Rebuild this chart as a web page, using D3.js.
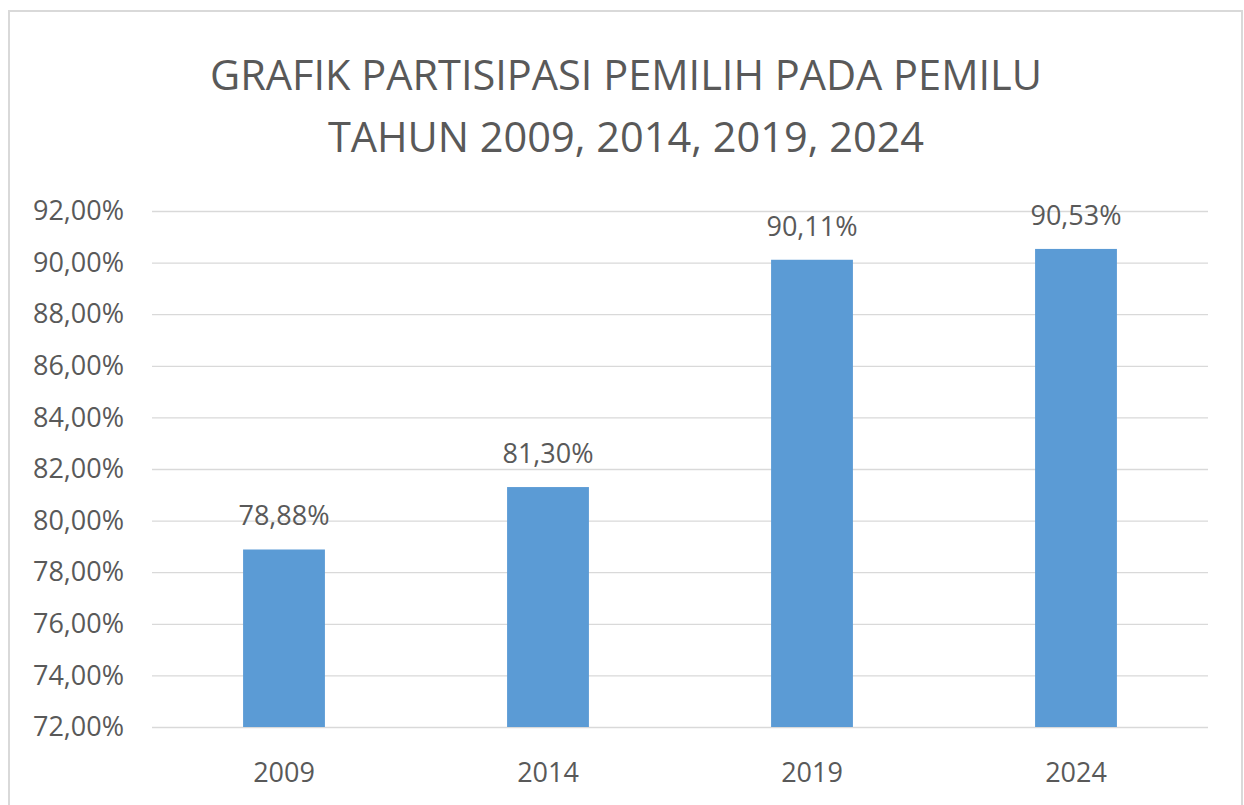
<!DOCTYPE html>
<html>
<head>
<meta charset="utf-8">
<script src="https://cdn.jsdelivr.net/npm/d3@7"></script>
<style>
  body { margin: 0; background: #fff; }
  text { font-family: "Open Sans", sans-serif; fill: #595959; }
</style>
</head>
<body>
<svg width="1244" height="805"></svg>
<script>
// data
const years = ['2009', '2014', '2019', '2024'];
const partisipasi = [78.88, 81.30, 90.11, 90.53];
const yTicks = [72, 74, 76, 78, 80, 82, 84, 86, 88, 90, 92];
const titleLines = ['GRAFIK PARTISIPASI PEMILIH PADA PEMILU', 'TAHUN 2009, 2014, 2019, 2024'];

const svg = d3.select('svg');

// chart border
svg.append('rect')
    .attr('x', 9).attr('y', 11)
    .attr('width', 1233).attr('height', 820)
    .attr('fill', 'white')
    .attr('stroke', '#d9d9d9')
    .attr('stroke-width', 2);

const plotL = 152, plotR = 1208, plotT = 211, plotB = 727;

const x = d3.scaleBand().domain(years).range([plotL, plotR]).paddingInner(0.69).paddingOuter(0.345);
const y = d3.scaleLinear().domain([72, 92]).range([plotB, plotT]);

const fmt = v => v.toFixed(2).replace('.', ',') + '%';

// title
svg.append('g').selectAll('text')
    .data(titleLines)
    .join('text')
    .attr('x', 626)
    .attr('y', (d, i) => 90 + i * 62)
    .attr('text-anchor', 'middle')
    .style('font-size', '41.5px')
    .text(d => d);

// gridlines
svg.append('g')
    .attr('transform', `translate(${plotL},0)`)
    .call(d3.axisLeft(y).tickValues(yTicks).tickSize(-(plotR - plotL)).tickFormat(''))
    .call(g => g.select('.domain').remove())
    .call(g => g.selectAll('line').attr('stroke', '#d9d9d9').attr('stroke-width', 1.3));

// y labels
svg.append('g')
    .attr('transform', `translate(${plotL - 28},0)`)
    .call(d3.axisLeft(y).tickValues(yTicks).tickSize(0).tickPadding(0).tickFormat(fmt))
    .call(g => g.select('.domain').remove())
    .call(g => g.selectAll('text').style('font-size', '27px').attr('fill', '#595959'));

// bars
svg.append('g').selectAll('rect')
    .data(partisipasi)
    .join('rect')
    .attr('x', (d, i) => x(years[i]))
    .attr('y', d => y(d))
    .attr('width', x.bandwidth())
    .attr('height', d => plotB - y(d))
    .attr('fill', '#5b9bd5');

// value labels
svg.append('g').selectAll('text')
    .data(partisipasi)
    .join('text')
    .attr('x', (d, i) => x(years[i]) + x.bandwidth() / 2)
    .attr('y', d => y(d) - 24)
    .attr('text-anchor', 'middle')
    .style('font-size', '27px')
    .text(fmt);

// x axis
svg.append('g')
    .attr('transform', `translate(0,${plotB})`)
    .call(d3.axisBottom(x).tickSize(0).tickPadding(0))
    .call(g => g.select('.domain').remove())
    .call(g => g.selectAll('text').attr('dy', null).attr('y', 55).style('font-size', '27px').attr('fill', '#595959'));
</script>
</body>
</html>
